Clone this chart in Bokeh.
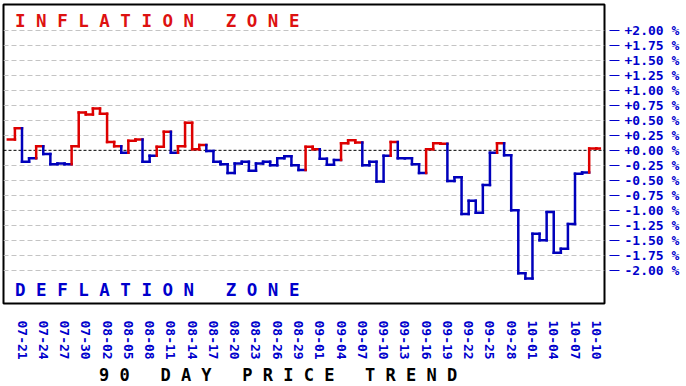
import pandas as pd
from bokeh.plotting import figure
from bokeh.models import FixedTicker, Span, Label, Title, ColumnDataSource, Range1d
from bokeh.embed import file_html
from bokeh.resources import INLINE

# ---- data ----
start_date = "2010-07-19"
values = [0.18, 0.37, -0.19, -0.13, 0.07, -0.06, -0.23, -0.22, -0.23, 0.07,
          0.63, 0.60, 0.70, 0.61, 0.14, 0.07, -0.04, 0.16, 0.18, -0.19,
          -0.09, 0.06, 0.31, -0.04, 0.07, 0.46, 0.02, 0.09, -0.01, -0.19,
          -0.23, -0.38, -0.22, -0.19, -0.34, -0.22, -0.19, -0.25, -0.13, -0.10,
          -0.25, -0.33, 0.06, 0.02, -0.14, -0.24, -0.16, 0.12, 0.17, 0.13,
          -0.25, -0.19, -0.52, -0.09, 0.14, -0.13, -0.13, -0.23, -0.38, 0.02,
          0.12, 0.11, -0.51, -0.45, -1.06, -0.84, -1.04, -0.58, -0.04, 0.12,
          -0.08, -1.00, -2.05, -2.14, -1.39, -1.50, -1.03, -1.71, -1.64, -1.23,
          -0.39, -0.37, 0.03, 0.03]
x_tick_labels = ["07-21", "07-24", "07-27", "07-30", "08-02", "08-05", "08-08",
                 "08-11", "08-14", "08-17", "08-20", "08-23", "08-26", "08-29",
                 "09-01", "09-04", "09-07", "09-10", "09-13", "09-16", "09-19",
                 "09-22", "09-25", "09-28", "10-01", "10-04", "10-07", "10-10"]
y_ticks = [-2.0, -1.75, -1.5, -1.25, -1.0, -0.75, -0.5, -0.25, 0.0,
           0.25, 0.5, 0.75, 1.0, 1.25, 1.5, 1.75, 2.0]
y_tick_labels = ["-2.00 %", "-1.75 %", "-1.50 %", "-1.25 %", "-1.00 %", "-0.75 %",
                 "-0.50 %", "-0.25 %", "+0.00 %", "+0.25 %", "+0.50 %", "+0.75 %",
                 "+1.00 %", "+1.25 %", "+1.50 %", "+1.75 %", "+2.00 %"]
top_label = "I N F L A T I O N   Z O N E"
bottom_label = "D E F L A T I O N   Z O N E"
x_title = "9 0   D A Y   P R I C E   T R E N D"

RED = "#dd1111"
BLUE = "#0000cc"
LINE_RED = "#dd0000"
LINE_BLUE = "#0000bb"
FONT = "DejaVu Sans Mono"


def keep_spaces(s):
    # SVG collapses runs of spaces; use no-break spaces to keep the letter spacing
    return s.replace(" ", "\u00a0")


dates = [d.strftime("%m-%d") for d in pd.date_range(start_date, periods=len(values))]
x_tick_pos = [dates.index(lbl) for lbl in x_tick_labels]

# step segments: horizontal for each day, vertical at each change
x0, x1, y0, y1, col = [], [], [], [], []
n = len(values)
for i, v in enumerate(values):
    c = LINE_RED if v >= 0 else LINE_BLUE
    if i > 0:
        x0.append(i); x1.append(i); y0.append(values[i - 1]); y1.append(v); col.append(c)
    end = i + 1 if i < n - 1 else i + 0.5
    x0.append(i); x1.append(end); y0.append(v); y1.append(v); col.append(c)
src = ColumnDataSource(dict(x0=x0, x1=x1, y0=y0, y1=y1, color=col))

p = figure(width=686, height=386, title=None,
           x_range=Range1d(-0.61, 84.16), y_range=Range1d(-2.555, 2.433),
           y_axis_location="right", output_backend="svg", toolbar_location=None,
           min_border_left=3, min_border_top=4, min_border_right=82, min_border_bottom=83,
           background_fill_color="white", border_fill_color="white")

p.outline_line_color = "black"
p.outline_line_width = 2

# grid
p.xgrid.visible = False
p.ygrid.ticker = FixedTicker(ticks=[t for t in y_ticks if t != 0])
p.ygrid.grid_line_color = "#c4c4c4"
p.ygrid.grid_line_dash = "5 3"
p.ygrid.grid_line_width = 1

p.add_layout(Span(location=0, dimension="width", line_color="black",
                  line_dash="3 2", line_width=1, level="underlay"))

p.segment(x0="x0", y0="y0", x1="x1", y1="y1", line_color="color",
          line_width=2.5, line_cap="square", source=src)

# y axis (right)
ya = p.yaxis[0]
ya.ticker = FixedTicker(ticks=y_ticks)
ya.major_label_overrides = {t: l for t, l in zip(y_ticks, y_tick_labels)}
ya.axis_line_color = None
ya.major_tick_in = -5
ya.major_tick_out = 15
ya.major_tick_line_color = BLUE
ya.major_tick_line_width = 1
ya.minor_tick_line_color = None
ya.major_label_standoff = 5
ya.major_label_text_font = FONT
ya.major_label_text_font_style = "bold"
ya.major_label_text_font_size = "13px"
ya.major_label_text_color = BLUE

# x axis
xa = p.xaxis[0]
xa.ticker = FixedTicker(ticks=x_tick_pos)
xa.major_label_overrides = {t: l for t, l in zip(x_tick_pos, x_tick_labels)}
xa.axis_line_color = None
xa.major_tick_line_color = None
xa.major_tick_in = 0
xa.major_tick_out = 0
xa.minor_tick_line_color = None
xa.major_label_orientation = "vertical"
xa.major_label_standoff = 17
xa.major_label_text_font = FONT
xa.major_label_text_font_style = "bold"
xa.major_label_text_font_size = "13px"
xa.major_label_text_color = BLUE

# zone labels (screen units measured from the frame's bottom-left corner)
p.add_layout(Label(x=11.5, y=282.5, x_units="screen", y_units="screen",
                   text=keep_spaces(top_label),
                   text_font=FONT, text_font_style="bold", text_font_size="17.5px",
                   text_color=RED, text_baseline="middle"))
p.add_layout(Label(x=11.5, y=14, x_units="screen", y_units="screen",
                   text=keep_spaces(bottom_label),
                   text_font=FONT, text_font_style="bold", text_font_size="17.5px",
                   text_color=BLUE, text_baseline="middle"))

# bottom title
p.add_layout(Title(text=keep_spaces(x_title), align="left", offset=95.5,
                   text_font=FONT, text_font_style="bold", text_font_size="17px",
                   text_color="black", standoff=2, vertical_align="middle"), "below")

open("out.html", "w").write(file_html(p, INLINE))
